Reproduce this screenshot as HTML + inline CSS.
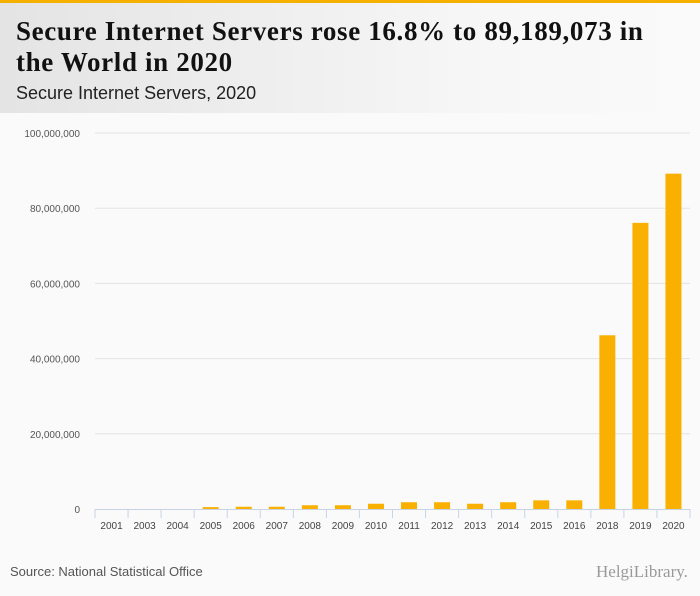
<!DOCTYPE html>
<html><head><meta charset="utf-8"><style>
body{margin:0;width:700px;height:596px;background:#fafafa;font-family:"Liberation Sans",sans-serif;overflow:hidden;position:relative}
#hdr{position:absolute;left:0;top:0;width:700px;height:113px;background:linear-gradient(90deg,#e4e4e4,#f7f7f7 70%,#fafafa);border-top:3px solid #f6b100;box-sizing:border-box}
h1{position:absolute;left:16px;top:13px;margin:0;font:bold 27px/31px "Liberation Serif",serif;color:#111;letter-spacing:0.65px;white-space:nowrap}
#sub{position:absolute;left:16px;top:80px;font-size:18px;color:#222}
#src{position:absolute;left:10px;top:564px;font-size:13px;color:#555}
#logo{position:absolute;left:596px;top:562px;font:17px "Liberation Serif",serif;color:#999}
</style></head><body>
<div id="hdr">
<h1>Secure Internet Servers rose 16.8% to 89,189,073 in<br>the World in 2020</h1>
<div id="sub">Secure Internet Servers, 2020</div>
</div>
<svg id="chart" width="700" height="596" style="position:absolute;left:0;top:0"></svg>
<div id="src">Source: National Statistical Office</div>
<div id="logo">HelgiLibrary.</div>
<script>
const categories=["2001","2003","2004","2005","2006","2007","2008","2009","2010","2011","2012","2013","2014","2015","2016","2018","2019","2020"];
const values=[0,0,0,0.5,0.6,0.6,1.0,1.0,1.4,1.8,1.8,1.4,1.8,2.3,2.3,46.2,76.1,89.19];
const ticks=[0,20,40,60,80,100];
const tickLabels=["0","20,000,000","40,000,000","60,000,000","80,000,000","100,000,000"];
const svg=document.getElementById('chart');
const NS='http://www.w3.org/2000/svg';
const x0=95,x1=690,y0=509,yTop=133;
const y=v=>y0-(v/100)*(y0-yTop);
const bw=(x1-x0)/categories.length;
function mk(t,a){const e=document.createElementNS(NS,t);for(const k in a)e.setAttribute(k,a[k]);svg.appendChild(e);return e;}
ticks.forEach((t,i)=>{
 if(t>0){const g=mk('line',{x1:x0,x2:x1,y1:y(t),y2:y(t),stroke:'#e3e3e3'});
 
 }
 const l=mk('text',{x:80,y:y(t)+4,'text-anchor':'end','font-size':'10','fill':'#555','font-family':'Liberation Sans, sans-serif'});
 l.textContent=tickLabels[i];
 
 
});
const ax=mk('line',{x1:x0,x2:x1,y1:y0+0.5,y2:y0+0.5,stroke:'#c8d3e6'});


categories.forEach((c,i)=>{
 const cx=x0+bw*(i+0.5);
 const tk=mk('line',{x1:x0+bw*i,x2:x0+bw*i,y1:y0,y2:y0+9,stroke:'#c8d3e6'});
 
 
 const b=mk('rect',{x:cx-8,y:y(values[i]),width:16,height:y0-y(values[i]),fill:'#f9b000'});
 
 
 const t=mk('text',{x:cx,y:y0+20,'text-anchor':'middle','font-size':'10','fill':'#444','font-family':'Liberation Sans, sans-serif'});
 t.textContent=c;
 
 
});
const te=mk('line',{x1:x1,x2:x1,y1:y0,y2:y0+9,stroke:'#c8d3e6'});


</script>
</body></html>
